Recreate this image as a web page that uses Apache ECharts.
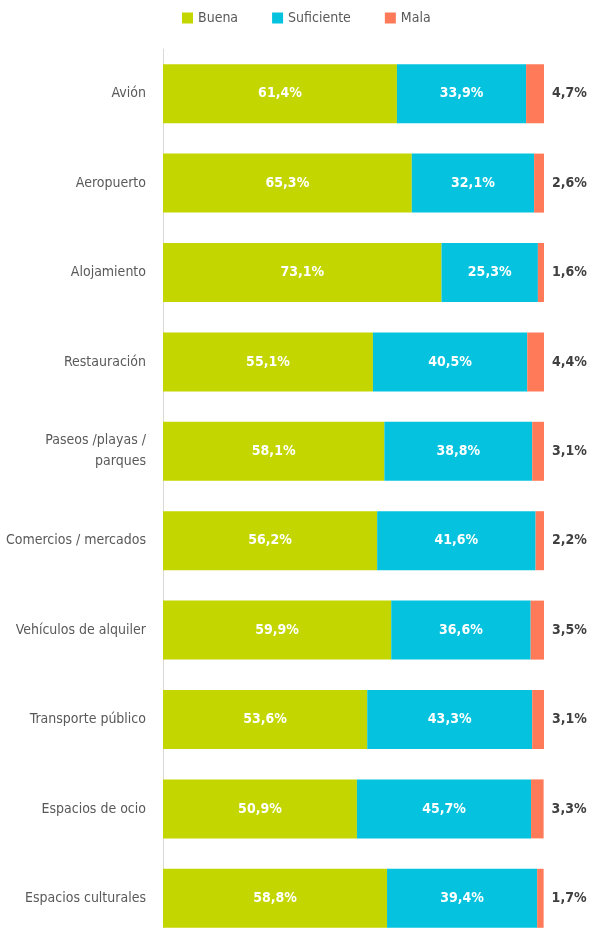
<!DOCTYPE html>
<html>
<head>
<meta charset="utf-8">
<script src="https://cdn.jsdelivr.net/npm/echarts@6/dist/echarts.min.js"></script>
<style>
html,body{margin:0;padding:0;background:#fff;}
#main{width:589px;height:928px;}
</style>
</head>
<body>
<div id="main"></div>
<script>
// categorías y valores (%)
var categorias = ['Avión', 'Aeropuerto', 'Alojamiento', 'Restauración', 'Paseos /playas /\nparques',
	'Comercios / mercados', 'Vehículos de alquiler', 'Transporte público', 'Espacios de ocio', 'Espacios culturales'];
var buena = [61.4, 65.3, 73.1, 55.1, 58.1, 56.2, 59.9, 53.6, 50.9, 58.8];
var suficiente = [33.9, 32.1, 25.3, 40.5, 38.8, 41.6, 36.6, 43.3, 45.7, 39.4];
var mala = [4.7, 2.6, 1.6, 4.4, 3.1, 2.2, 3.5, 3.1, 3.3, 1.7];

var fuente = '"DejaVu Sans Condensed", Roboto, sans-serif';

function pct(p){
	return p.value.toFixed(1).replace('.', ',') + '%';
}

var chart = echarts.init(document.getElementById('main'));
chart.setOption({
	animation: false,
	textStyle: {fontFamily: fuente},
	legend: {
		top: 6,
		left: 177,
		itemWidth: 11,
		itemHeight: 11,
		itemGap: 34,
		icon: 'rect',
		textStyle: {fontSize: 14, color: '#595959', fontFamily: fuente},
		data: ['Buena', 'Suficiente', 'Mala']
	},
	grid: {left: 163, right: 45, top: 49, height: 894, outerBoundsMode: 'none', containLabel: false},
	xAxis: {type: 'value', min: 0, max: 100, show: false},
	yAxis: {
		type: 'category',
		inverse: true,
		data: categorias,
		axisLine: {lineStyle: {color: '#d9d9d9', width: 1}},
		axisTick: {show: false},
		axisLabel: {margin: 17, fontSize: 14, color: '#595959', fontFamily: fuente, lineHeight: 21}
	},
	series: [{
		name: 'Buena',
		type: 'bar',
		stack: 'total',
		barWidth: 59,
		itemStyle: {color: '#c4d600'},
		label: {show: true, position: 'inside', color: '#fff', fontWeight: 'bold', fontSize: 14, fontFamily: fuente, formatter: pct},
		data: buena
	}, {
		name: 'Suficiente',
		type: 'bar',
		stack: 'total',
		barWidth: 59,
		itemStyle: {color: '#05c3de'},
		label: {show: true, position: 'inside', color: '#fff', fontWeight: 'bold', fontSize: 14, fontFamily: fuente, formatter: pct},
		data: suficiente
	}, {
		name: 'Mala',
		type: 'bar',
		stack: 'total',
		barWidth: 59,
		itemStyle: {color: '#ff7a59'},
		label: {show: true, position: 'right', distance: 8, color: '#404040', fontWeight: 'bold', fontSize: 14, fontFamily: fuente, formatter: pct},
		data: mala
	}]
});
</script>
</body>
</html>
